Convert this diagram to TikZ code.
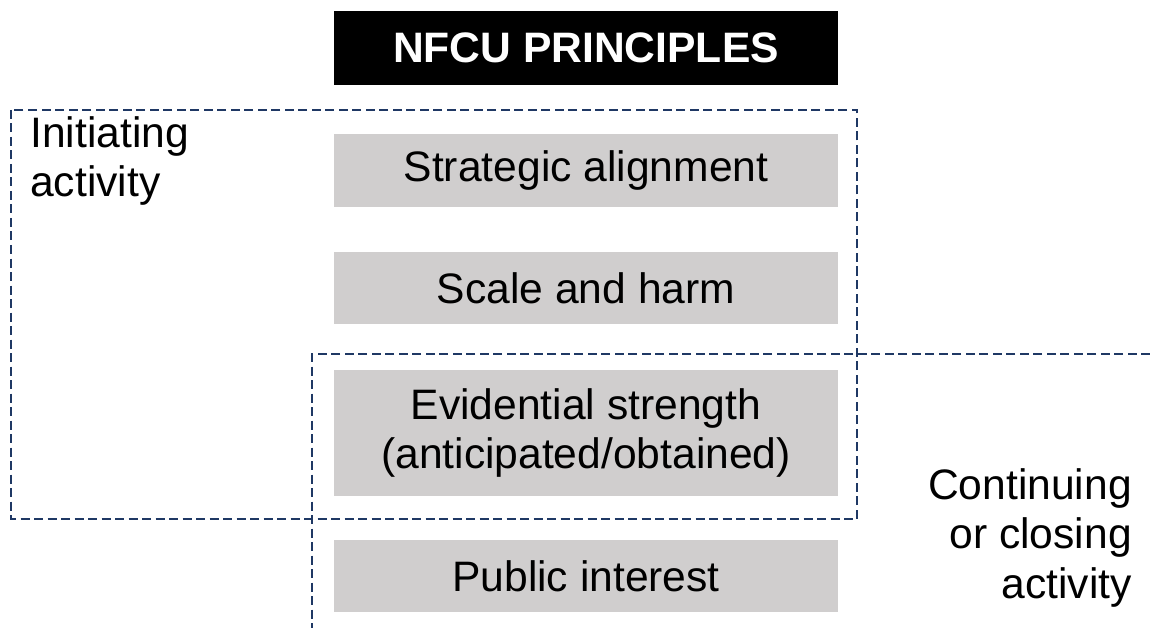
\documentclass[tikz,border=0pt]{standalone}
\usepackage{fontspec}
\setmainfont{Liberation Sans}
\definecolor{boxgray}{RGB}{208,206,206}
\definecolor{navy}{RGB}{31,56,100}
\begin{document}
\begin{tikzpicture}[x=1pt,y=-1pt,
  txt/.style={font=\fontsize{42.6}{49.5}\selectfont, inner sep=0pt},
  principle/.style={txt, fill=boxgray, minimum width=504pt, align=center},
  header/.style={fill=black, text=white, font=\fontsize{42.6}{49.5}\selectfont\bfseries, minimum width=504pt, minimum height=74pt, inner sep=0pt},
  region/.style={draw=navy, line width=2.4pt, dash pattern=on 9pt off 4.5pt}]
\useasboundingbox (0,0) rectangle (1150,628);
\node[header] (title) at (586,48) {NFCU PRINCIPLES};
\node[principle, minimum height=73pt] (p1) at (586,170.5) {Strategic alignment};
\node[principle, minimum height=72pt] (p2) at (586,288) {Scale and harm};
\node[principle, minimum height=126pt] (p3) at (586,433) {Evidential strength\\(anticipated/obtained)};
\node[principle, minimum height=72pt] (p4) at (586,576) {Public interest};
\node[txt, align=left, anchor=base west] (init) at (30,197) {Initiating\\activity};
\node[txt, align=right, anchor=base east] (cont) at (1132,598) {Continuing\\or closing\\activity};
\coordinate (a1) at (11,110);
\coordinate (a2) at (857,519);
\draw[region] (a1) rectangle (a2);
\coordinate (b1) at (1150,354);
\coordinate (b2) at (312,354);
\coordinate (b3) at (312,628);
\draw[region] (b1) -- (b2) -- (b3);
\end{tikzpicture}
\end{document}
